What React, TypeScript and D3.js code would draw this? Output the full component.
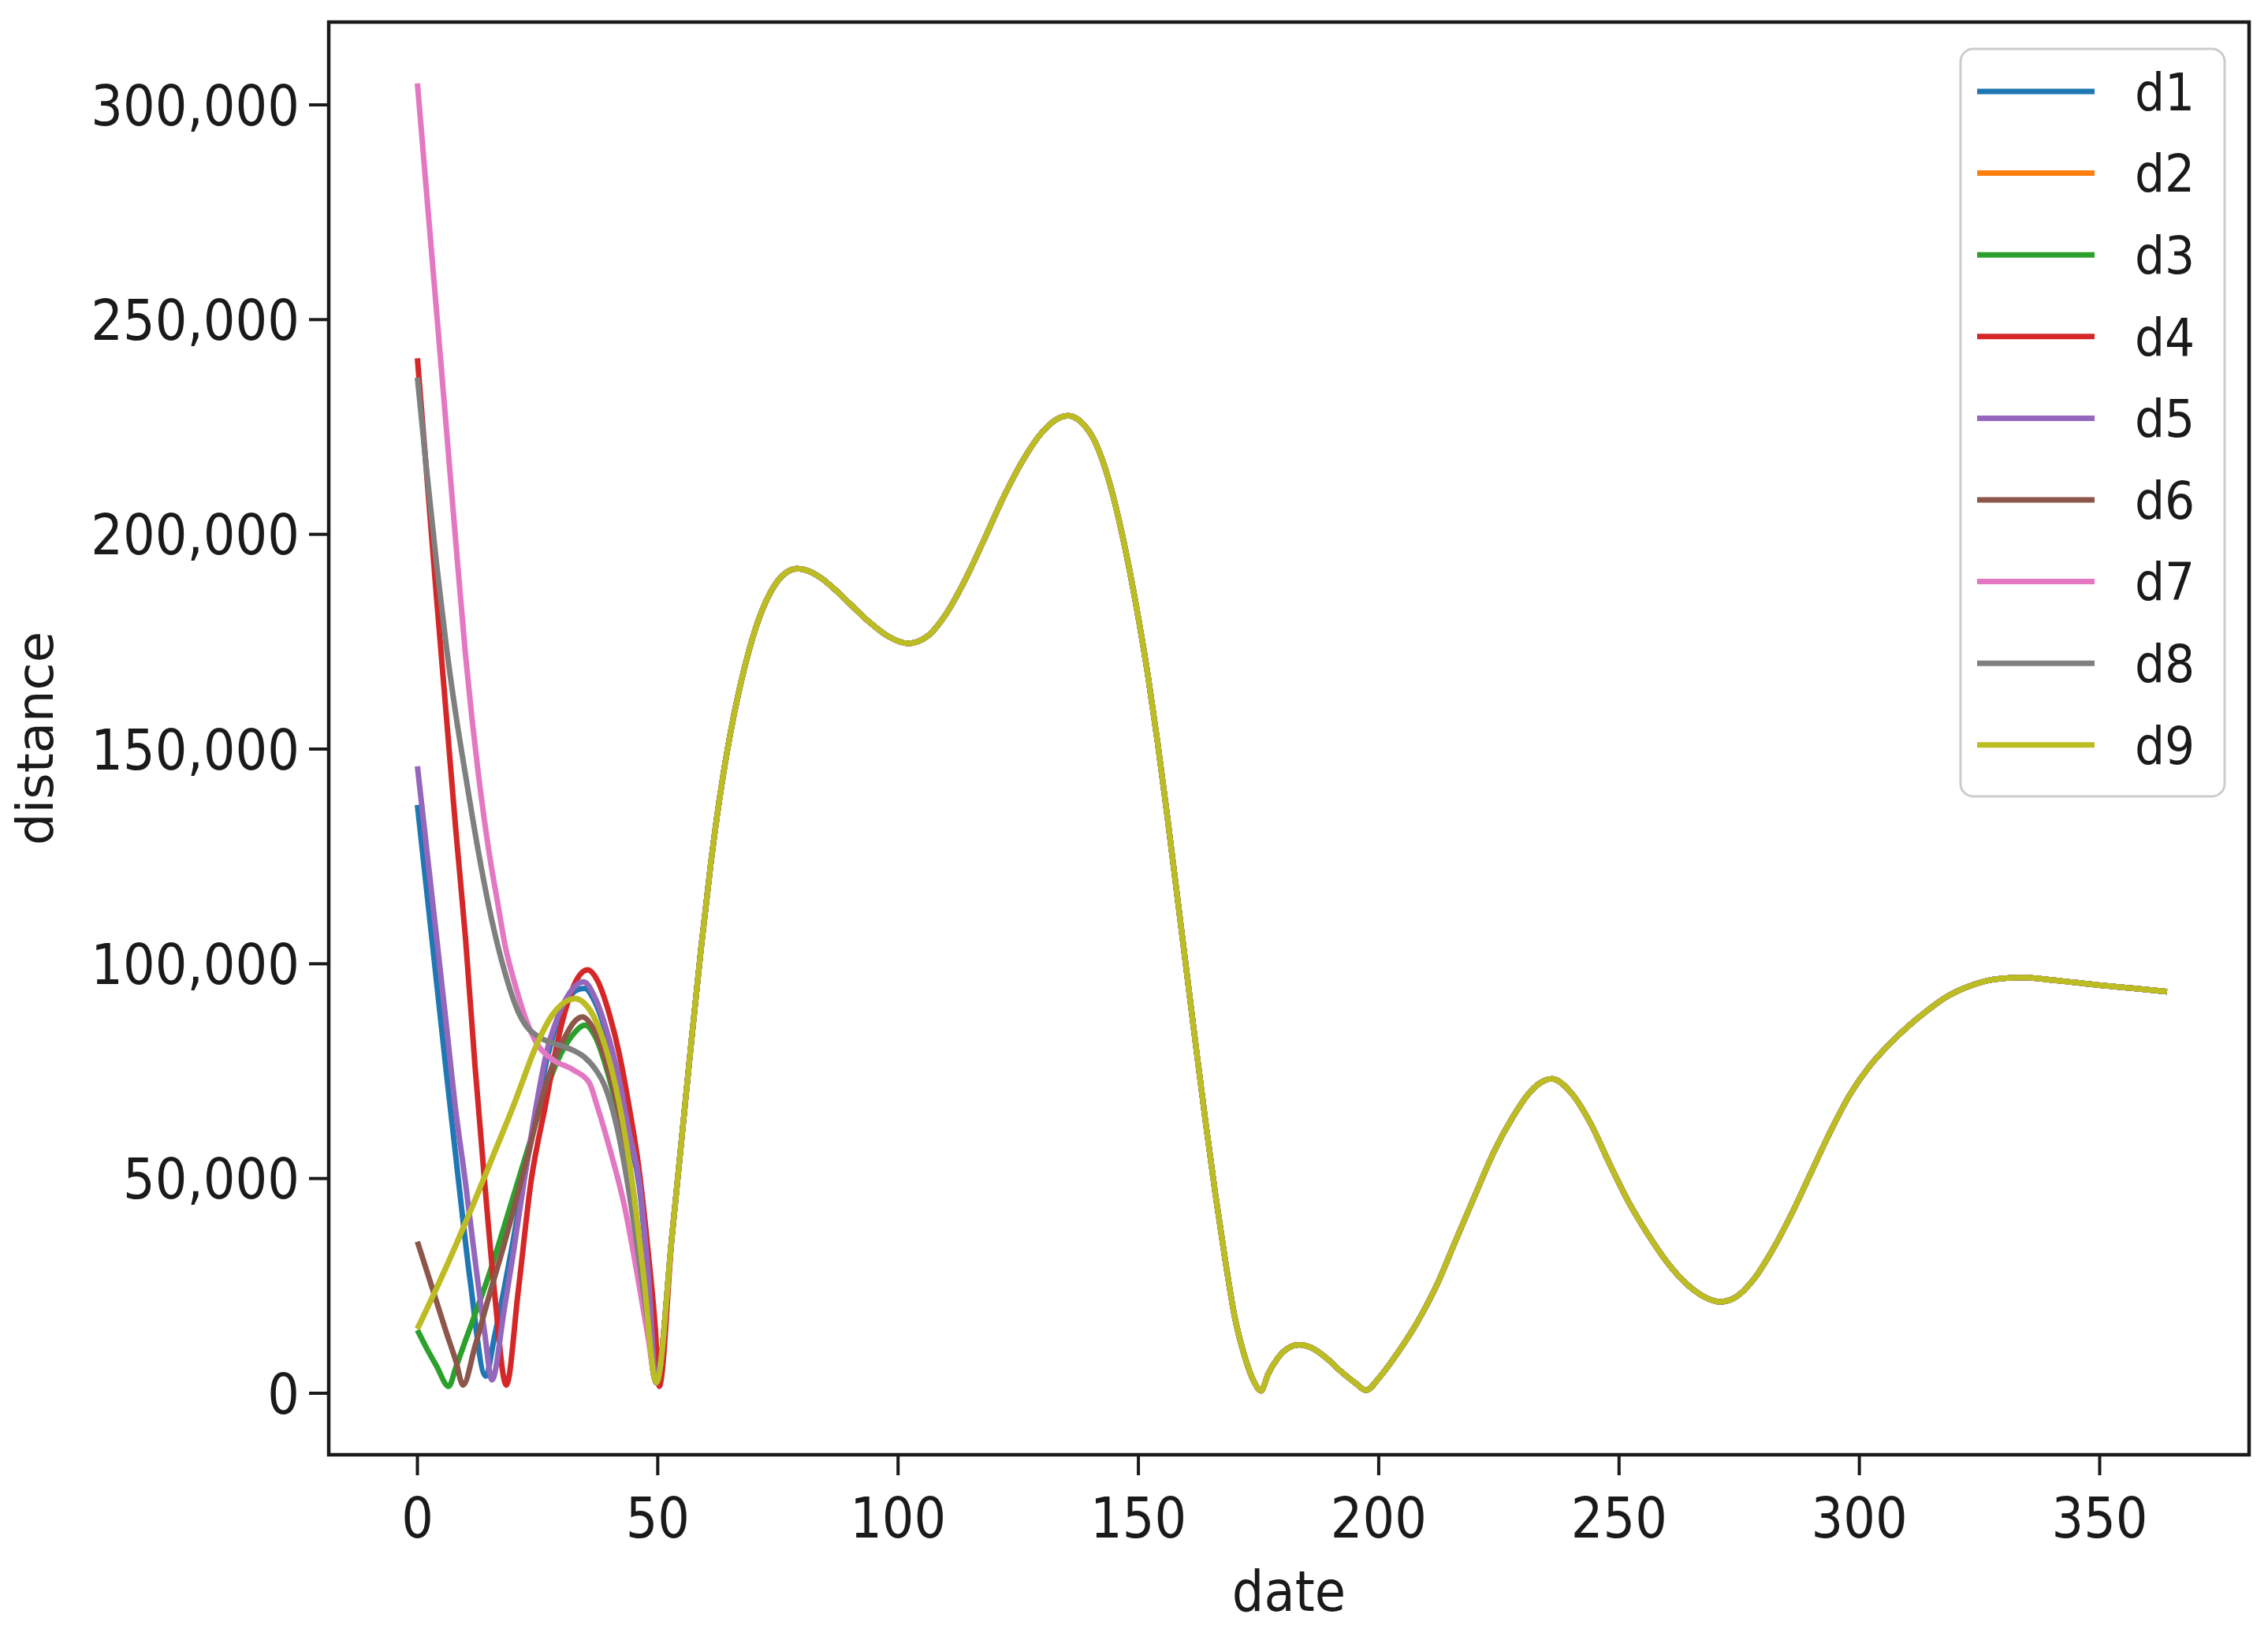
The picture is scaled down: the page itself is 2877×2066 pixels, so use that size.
import React from 'react';
import * as d3 from 'd3';

const W = 2877;
const H = 2066;

const seriesNames = ['d1', 'd2', 'd3', 'd4', 'd5', 'd6', 'd7', 'd8', 'd9'];
const seriesColors = ['#1f77b4', '#ff7f0e', '#2ca02c', '#d62728', '#9467bd', '#8c564b', '#e377c2', '#7f7f7f', '#bcbd22'];
const xTicks = [0, 50, 100, 150, 200, 250, 300, 350];
const yTicks = [0, 50000, 100000, 150000, 200000, 250000, 300000];

// early part of each series: [date, distance]
const d1Early: [number, number][] = [
  [0, 137000], [3, 106000], [6, 75000], [8.6, 49000], [11, 26000], [14.2, 4000],
  [16, 13000], [18, 24000], [20, 36000], [22, 49000], [24.5, 64000], [27, 78000],
  [29, 86000], [31, 91000], [33, 93800], [34.8, 94300], [37, 91000], [40, 81000],
  [42, 72000], [44, 60000], [46.2, 48000], [48, 27000], [49.7, 2500],
];
const d3Early: [number, number][] = [
  [0, 14700], [2, 10300], [4, 6300], [6.5, 1600], [8, 6000], [10, 12300], [11.6, 17200],
  [14.9, 27600], [17, 35000], [20, 46000], [23, 57000], [26, 68000], [29, 77000],
  [32, 83000], [34.9, 85700], [37, 83000], [40, 73000], [42, 64000], [44.5, 47000],
  [47, 27000], [49.7, 2500],
];
const d4Early: [number, number][] = [
  [0, 241000], [2, 213000], [4, 185000], [6, 158000], [8, 131000], [10, 106000],
  [12, 76000], [14, 49000], [16, 24000], [18.5, 1900], [21, 24000], [23.6, 49000],
  [26.7, 67400], [29, 81000], [31, 90000], [33, 96000], [35.4, 98600], [37.5, 96000],
  [40, 88000], [42, 79000], [44, 67000], [46, 53000], [48, 33000], [49.5, 15000], [50.3, 1600],
];
const d5Early: [number, number][] = [
  [0, 146000], [3, 116000], [6, 86000], [7.8, 67400], [10, 49000], [12, 31000],
  [14, 14000], [15.5, 3100], [18, 19000], [20, 33000], [22, 48000], [24.8, 67400],
  [27, 80000], [29, 87000], [31, 92000], [33, 95000], [34.6, 95800], [37, 92000],
  [40, 82000], [42, 73000], [44, 61000], [46.2, 49000], [48, 28000], [49.7, 2500],
];
const d6Early: [number, number][] = [
  [0, 35300], [3, 24800], [6, 14200], [8, 7500], [9.5, 1900], [12, 11000], [15, 23000],
  [18, 34500], [21, 47000], [23, 55500], [25.6, 67400], [28, 76000], [30.5, 82500],
  [32.5, 86300], [34.3, 87600], [37, 84000], [40, 74000], [42, 65000], [44.5, 48000],
  [47, 27000], [49.7, 2500],
];
const d7Early: [number, number][] = [
  [0, 305000], [3, 265000], [6, 225000], [8, 198000], [10, 172000], [12.7, 144000],
  [14.9, 126000], [16.8, 113500], [18.2, 104500], [20.4, 94900], [22.6, 87000],
  [24.8, 81500], [28, 77800], [32.4, 75300], [35.7, 72400], [37.5, 66500], [40, 57000],
  [43, 44000], [46, 26000], [48, 13000], [49.7, 2500],
];
const d8Early: [number, number][] = [
  [0, 236500], [2, 214000], [4, 193000], [6, 174000], [8, 158000], [10, 144000],
  [12.7, 126000], [15.5, 110000], [18.2, 98000], [20.9, 89000], [23, 85000],
  [24.8, 83300], [27, 82000], [30.2, 80800], [32.5, 79800], [34.6, 78400], [37, 75500],
  [39, 71500], [41.5, 62000], [44, 47000], [46, 32000], [48, 16000], [49.7, 2500],
];
const d9Early: [number, number][] = [
  [0, 15000], [4, 24500], [8, 34500], [12, 45000], [16, 56000], [20, 67000], [22, 73000],
  [24, 79000], [26, 84000], [28, 88000], [30, 90500], [32.8, 91900], [35, 90500],
  [37, 87000], [39, 81000], [40.5, 75000], [42, 67400], [44.7, 49000], [47, 28000], [49.7, 2500],
];
// d2 lies exactly under d9 in the picture
const d2Early: [number, number][] = d9Early;

// shared part, identical for every series after the first ~50 days
const sharedTail: [number, number][] = [
  [53, 37000], [55, 59500], [57, 82000], [59, 103500], [61, 123000], [63, 139500],
  [65, 153000], [67, 164000], [69, 173000], [71, 180200], [73, 185500], [75, 189200],
  [77, 191300], [79, 192000], [81, 191600], [84, 189800], [87, 187000], [90, 183800],
  [94, 179600], [98, 176200], [102, 174600], [106, 176200], [110, 181500], [114, 189500],
  [118, 199000], [122, 208800], [126, 217300], [130, 223800], [133, 226800], [135.5, 227600],
  [138, 226200], [141, 221500], [144, 212000], [147, 198000], [150, 180500], [152, 167000],
  [154, 151500], [156, 134500], [158, 116500], [160, 98500], [162, 80500], [164, 63000],
  [166, 46500], [168, 31500], [170, 18000], [172, 9000], [174, 2800], [175.5, 600],
  [177, 4500], [179, 8200], [181, 10400], [183.5, 11300], [186, 10600], [189, 8300],
  [192, 5200], [195, 2500], [197.4, 700], [200, 3500], [204, 9500], [208, 16500],
  [212, 25000], [216, 35500], [220, 46000], [224, 56300], [228, 64500], [231, 69500],
  [233.5, 72200], [236, 73200], [240, 70000], [244, 63000], [248, 53500], [252, 44500],
  [256, 37000], [260, 30500], [264, 25500], [268, 22300], [271, 21300], [274, 22200],
  [278, 26500], [282, 33500], [286, 42000], [290, 51500], [294, 61000], [298, 69500],
  [302, 76000], [306, 81000], [310, 85300], [314, 89000], [318, 92200], [322, 94400],
  [326, 95900], [330, 96600], [334, 96800], [338, 96500], [342, 96000], [346, 95500],
  [350, 95000], [354, 94600], [358, 94200], [364, 93500],
];

const earlyParts = [d1Early, d2Early, d3Early, d4Early, d5Early, d6Early, d7Early, d8Early, d9Early];

const FONT = '"DejaVu Sans", Verdana, sans-serif';
const INK = '#1a1a1a';

export default function App() {
  const left = 417, right = 2853, top = 28, bottom = 1845;
  const x = d3.scaleLinear().domain([0, 350]).range([529.5, 2663.5]);
  const y = d3.scaleLinear().domain([0, 300000]).range([1767, 133]);

  const line = d3
    .line<[number, number]>()
    .x((d) => x(d[0]))
    .y((d) => y(d[1]))
    .curve(d3.curveMonotoneX);

  const series = seriesNames.map((name, i) => ({
    name,
    color: seriesColors[i],
    points: [...earlyParts[i], ...sharedTail],
  }));

  const legendX = 2487, legendY = 62, legendW = 335, legendH = 948;
  const rowY0 = 116, rowStep = 103.6;
  const fmt = d3.format(',');

  return (
    <svg
      width={W}
      height={H}
      style={{ position: 'absolute', left: 0, top: 0, background: '#fff' }}
      fontFamily={FONT}
    >
      <rect x={0} y={0} width={W} height={H} fill="#fff" />
      <defs>
        <clipPath id="plotclip">
          <rect x={left} y={top} width={right - left} height={bottom - top} />
        </clipPath>
      </defs>

      <g clipPath="url(#plotclip)">
        {series.map((s) => (
          <path
            key={s.name}
            d={line(s.points) || ''}
            fill="none"
            stroke={s.color}
            strokeWidth={7}
            strokeLinejoin="round"
            strokeLinecap="butt"
          />
        ))}
      </g>

      {/* frame */}
      <rect x={left} y={top} width={right - left} height={bottom - top} fill="none" stroke={INK} strokeWidth={4.5} />

      {/* y ticks */}
      {yTicks.map((t) => (
        <g key={'y' + t}>
          <line x1={left - 25} x2={left} y1={y(t)} y2={y(t)} stroke={INK} strokeWidth={4} />
          <g transform={`translate(${left - 37},${y(t)}) scale(1,1.12)`}>
            <text x={0} y={0} dy="0.36em" textAnchor="end" fontSize={64} fill={INK}>
              {fmt(t)}
            </text>
          </g>
        </g>
      ))}

      {/* x ticks */}
      {xTicks.map((t) => (
        <g key={'x' + t}>
          <line x1={x(t)} x2={x(t)} y1={bottom} y2={bottom + 26} stroke={INK} strokeWidth={4} />
          <g transform={`translate(${x(t)},1950) scale(1,1.12)`}>
            <text x={0} y={0} textAnchor="middle" fontSize={64} fill={INK}>
              {t}
            </text>
          </g>
        </g>
      ))}

      {/* axis labels */}
      <g transform={`translate(${(left + right) / 2},2043) scale(1,1.12)`}>
        <text textAnchor="middle" fontSize={64} fill={INK}>date</text>
      </g>
      <g transform={`translate(67,${(top + bottom) / 2}) rotate(-90)`}>
        <text textAnchor="middle" fontSize={64} fill={INK}>distance</text>
      </g>

      {/* legend */}
      <rect
        x={legendX}
        y={legendY}
        width={legendW}
        height={legendH}
        rx={16}
        ry={16}
        fill="#fff"
        fillOpacity={0.8}
        stroke="#cccccc"
        strokeWidth={3}
      />
      {series.map((s, i) => {
        const ry = rowY0 + i * rowStep;
        return (
          <g key={'leg' + s.name}>
            <line x1={2508} x2={2657} y1={ry} y2={ry} stroke={s.color} strokeWidth={7} />
            <g transform={`translate(2708,${ry}) scale(1,1.1)`}>
              <text x={0} y={0} dy="0.36em" fontSize={60} fill={INK}>
                {s.name}
              </text>
            </g>
          </g>
        );
      })}
    </svg>
  );
}
